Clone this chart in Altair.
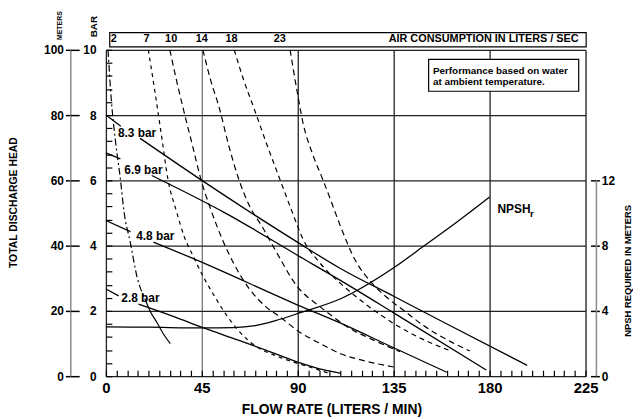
import altair as alt
import pandas as pd

FONT = "Liberation Sans"
W, HT = 485, 330

FLOW_TICKS = [0, 45, 90, 135, 180, 225]
FLOW_MINOR = list(range(0, 226, 5))
HEAD_TICKS = [0, 20, 40, 60, 80, 100]
HEAD_MINOR = list(range(0, 101, 4))
NPSH_TICKS = [0, 4, 8, 12]

# pressure curves (flow L/min, head m); split where the label sits
P83_A_F = [0, 7]
P83_A_H = [80, 76.6]
P83_B_F = [16, 45, 90, 110, 135, 160, 197.6]
P83_B_H = [72.9, 60, 41, 33, 24.5, 16, 3.3]
P69_A_F = [0, 6.8]
P69_A_H = [68.4, 66.6]
P69_B_F = [21.5, 56.3, 90, 110.4, 135, 178.4]
P69_B_H = [61.5, 49.9, 37, 29.2, 19.4, 1.9]
P48_A_F = [0, 11.5]
P48_A_H = [47.7, 44.3]
P48_B_F = [22.3, 40.8, 90, 112.7, 135, 159.9]
P48_B_H = [41.1, 36.1, 21.8, 15.5, 8.7, 1.2]
P28_A_F = [0, 6]
P28_A_H = [26.7, 24.6]
P28_B_F = [15.3, 32.2, 45, 60, 75, 90, 101.8, 110]
P28_B_H = [22.1, 18.2, 15.0, 11.5, 8.0, 4.3, 2.0, 0.9]

PRESSURE_LABELS = ["8.3 bar", "6.9 bar", "4.8 bar", "2.8 bar"]
PRESSURE_LABEL_F = [14.6, 17.6, 23.2, 16.2]
PRESSURE_LABEL_H = [74.5, 63.2, 43.0, 23.8]

# air consumption curves (flow L/min, head m)
AIR2_F = [1.0, 2.5, 4.5, 6.8, 8.4, 11.5, 14.5, 18.4]
AIR2_H = [100, 85, 72, 60.4, 50.9, 40.8, 30.7, 23.6]
AIR2_END_F = [18.4, 21.0, 23.8, 26.9, 30.2]
AIR2_END_H = [23.6, 19.6, 16.6, 13.0, 10.0]
AIR7_F = [19.9, 22.8, 25.8, 29.2, 33.1, 36.9, 40.8, 45.5, 50.5, 57, 65.4, 72, 80, 90, 98, 104]
AIR7_H = [100, 88, 75, 60, 50.5, 42.5, 37.0, 30.7, 25.0, 18.3, 11.8, 8.5, 6.2, 3.9, 2.3, 1.0]
AIR10_F = [30, 33, 36.2, 40.5, 44.7, 49.3, 54.7, 60, 67, 75, 82, 91.5, 100, 110.4, 122, 135]
AIR10_H = [100, 91, 82.2, 71, 60, 50.9, 41.8, 34.5, 27, 21.3, 18, 13.2, 10.2, 6.8, 4.6, 2.8]
AIR14_F = [45.5, 49, 53.2, 57.5, 62.5, 67.5, 73.3, 80, 89.5, 100, 107, 113.5, 125, 138]
AIR14_H = [100, 91, 82.2, 71, 60, 52, 45.8, 38, 27.7, 21.5, 18, 15.0, 11.2, 7.5]
AIR18_F = [60.2, 64.5, 69.4, 75.5, 81.8, 87, 92.6, 100, 110.4, 122, 135.1, 148, 160.7]
AIR18_H = [100, 91, 82.2, 71, 60, 51, 41.8, 35, 28.2, 22, 16.1, 11.5, 8.0]
AIR23_F = [86.4, 89.5, 92.6, 97, 101.9, 106, 110, 116.6, 125.5, 133, 141, 149, 160, 170.7]
AIR23_H = [100, 88, 77.2, 68, 60, 53, 46, 36, 28, 23.5, 19.5, 15.5, 11.2, 7.7]

AIR_LABELS = ["2", "7", "10", "14", "18", "23"]
AIR_LABEL_F = [3.7, 19.0, 30.6, 45.0, 58.9, 81.6]
AIR_TITLE = "AIR CONSUMPTION IN LITERS / SEC"

# NPSH required (flow L/min, metres)
NPSH_F = [0, 20, 45, 60, 70, 79.5, 91.9, 110.4, 135, 149, 165, 180]
NPSH_M = [3.02, 3.0, 2.96, 2.98, 3.1, 3.4, 3.92, 4.76, 6.64, 7.96, 9.48, 10.98]

NOTE_LINES = ["Performance based on water", "at ambient temperature."]


def rows(name, fs, hs):
    return [{"seg": name, "i": i, "f": f, "h": h} for i, (f, h) in enumerate(zip(fs, hs))]


p_df = pd.DataFrame(
    rows("83a", P83_A_F, P83_A_H) + rows("83b", P83_B_F, P83_B_H)
    + rows("69a", P69_A_F, P69_A_H) + rows("69b", P69_B_F, P69_B_H)
    + rows("48a", P48_A_F, P48_A_H) + rows("48b", P48_B_F, P48_B_H)
    + rows("28a", P28_A_F, P28_A_H) + rows("28b", P28_B_F, P28_B_H)
)
CURVES = ["2", "7", "10", "14", "18", "23"]
DASHES = [[7, 3, 2, 3], [4, 4], [6, 4], [6, 4], [5, 4], [6, 4]]
a_df = pd.DataFrame(
    rows("2", AIR2_F, AIR2_H) + rows("7", AIR7_F, AIR7_H) + rows("10", AIR10_F, AIR10_H)
    + rows("14", AIR14_F, AIR14_H) + rows("18", AIR18_F, AIR18_H) + rows("23", AIR23_F, AIR23_H)
)
a2_df = pd.DataFrame(rows("2e", AIR2_END_F, AIR2_END_H))
plab_df = pd.DataFrame({"t": PRESSURE_LABELS, "f": PRESSURE_LABEL_F, "h": PRESSURE_LABEL_H})
alab_df = pd.DataFrame({"t": AIR_LABELS, "f": AIR_LABEL_F, "h": [103.2] * len(AIR_LABELS)})
atitle_df = pd.DataFrame({"t": [AIR_TITLE], "f": [221.8], "h": [103.2]})
topbox_df = pd.DataFrame({"f": [1.8], "f2": [225.3], "h": [100.9], "h2": [105.3]})
notebox_df = pd.DataFrame({"f": [151.4], "f2": [221.8], "h": [87.3], "h2": [97.1]})
note_df = pd.DataFrame({"t": NOTE_LINES, "f": [153.4, 153.4], "h": [92.7, 89.2]})
n_df = pd.DataFrame({"f": NPSH_F, "m": NPSH_M, "i": list(range(len(NPSH_F)))})
nrule_df = pd.DataFrame({"lo": [0], "hi": [12]})
nlab_df = pd.DataFrame({"t": ["NPSH"], "f": [183.7], "h": [50.0]})
nsub_df = pd.DataFrame({"t": ["r"], "f": [198.9], "h": [48.8]})


def X(axis=None, field="f:Q"):
    return alt.X(field, scale=alt.Scale(domain=[0, 225], nice=False, zero=False), axis=axis)


def Y(axis=None, field="h:Q", domain=(0, 100)):
    return alt.Y(field, scale=alt.Scale(domain=list(domain), nice=False, zero=False), axis=axis)


bold = dict(labelFont=FONT, labelFontWeight="bold", labelColor="black",
            titleFont=FONT, titleFontWeight="bold", titleColor="black")

main_x = alt.Axis(values=FLOW_TICKS, orient="bottom", grid=True,
                  gridColor={"condition": {"test": "datum.value === 45", "value": "#777"}, "value": "#222"},
                  gridWidth=1.3, domain=False, ticks=False, tickSize=0,
                  labelFontSize=15, labelPadding=5, labelFlush=False,
                  title="FLOW RATE (LITERS / MIN)", titleFontSize=14, titleX=228, titleY=38,
                  titleBaseline="alphabetic", titleAlign="center", **bold)
inner_x = alt.Axis(values=FLOW_MINOR, orient="bottom", offset=-6, tickSize=6, tickColor="black",
                   tickWidth=1.2, domain=False, labels=False, grid=False, title=None)
meters_axis = alt.Axis(orient="left", offset=36, values=HEAD_TICKS, grid=True, gridColor="#222",
                       gridWidth=1.2, domain=True, domainColor="#8a8a8a", domainWidth=1.5,
                       tickSize=5, tickColor="black", tickWidth=1.5, labelFontSize=12,
                       labelPadding=2, labelFlush=False,
                       title="METERS", titleFontSize=7, titleAngle=270, titleX=-11, titleY=-25,
                       titleAlign="center", titleBaseline="middle", **bold)
bar_axis = alt.Axis(orient="left", offset=10, values=HEAD_TICKS, labelExpr="datum.value / 10",
                    grid=False, domain=False, ticks=False, tickSize=0, labelPadding=0,
                    labelFontSize=12, labelFlush=False,
                    title="BAR", titleFontSize=10, titleAngle=270, titleX=-3, titleY=-24,
                    titleAlign="center", titleBaseline="middle", **bold)
conn_axis = alt.Axis(orient="left", offset=27, values=HEAD_TICKS, grid=False, domain=False,
                     tickSize=9, tickColor="black", tickWidth=1.5, labels=False,
                     title="TOTAL DISCHARGE HEAD", titleFontSize=10.5, titleAngle=270,
                     titleX=-66, titleY=154, titleAlign="center", titleBaseline="middle", **bold)
inner_y = alt.Axis(orient="left", offset=-6, values=HEAD_MINOR, grid=False, domain=False,
                   tickSize=6, tickColor="black", tickWidth=1.2, labels=False, title=None)
npsh_axis = alt.Axis(orient="right", offset=11, values=NPSH_TICKS, grid=False, domain=False,
                     tickSize=3, tickColor="black", tickWidth=1.5, labelFontSize=12,
                     labelPadding=2, labelFlush=False,
                     title="NPSH REQUIRED IN METERS", titleFontSize=9.5, titleAngle=270,
                     titleX=31, titleY=223, titleAlign="center", titleBaseline="middle", **bold)
npsh_inner = alt.Axis(orient="right", offset=5, values=NPSH_TICKS, grid=False, domain=False,
                      tickSize=6, tickColor="black", tickWidth=1.5, labels=False, title=None)

pressure = alt.Chart(p_df).mark_line(color="black", strokeWidth=1.3, interpolate="monotone").encode(
    x=X(main_x), y=Y(meters_axis), detail="seg:N", order="i:Q")
air = alt.Chart(a_df).mark_line(color="black", strokeWidth=1.2, interpolate="monotone").encode(
    x=X(inner_x), y=Y(bar_axis), order="i:Q",
    strokeDash=alt.StrokeDash("seg:N", scale=alt.Scale(domain=CURVES, range=DASHES), legend=None))
air2 = alt.Chart(a2_df).mark_line(color="black", strokeWidth=1.2, interpolate="monotone").encode(
    x=X(), y=Y(conn_axis), order="i:Q")
plabels = alt.Chart(plab_df).mark_text(font=FONT, fontWeight="bold", fontSize=12, color="black",
                                       align="center", baseline="middle").encode(
    x=X(), y=Y(inner_y), text="t:N")
topbox = alt.Chart(topbox_df).mark_rect(fill="white", stroke="black", strokeWidth=1.2).encode(
    x=X(), x2="f2:Q", y=Y(), y2="h2:Q")
alabels = alt.Chart(alab_df).mark_text(font=FONT, fontWeight="bold", fontSize=11, color="black",
                                       align="center", baseline="middle").encode(
    x=X(), y=Y(), text="t:N")
atitle = alt.Chart(atitle_df).mark_text(font=FONT, fontWeight="bold", fontSize=11, color="black",
                                        align="right", baseline="middle").encode(
    x=X(), y=Y(), text="t:N")
notebox = alt.Chart(notebox_df).mark_rect(fill="white", stroke="black", strokeWidth=1.2).encode(
    x=X(), x2="f2:Q", y=Y(), y2="h2:Q")
note = alt.Chart(note_df).mark_text(font=FONT, fontWeight="bold", fontSize=10, color="black",
                                    align="left", baseline="alphabetic").encode(
    x=X(), y=Y(), text="t:N")
npsh = alt.Chart(n_df).mark_line(color="black", strokeWidth=1.3, interpolate="monotone").encode(
    x=X(), y=Y(npsh_axis, field="m:Q", domain=(0, 20)), order="i:Q")
nrule = alt.Chart(nrule_df).mark_rule(color="#8a8a8a", strokeWidth=1.5).encode(
    x=alt.value(W + 11), y=Y(npsh_inner, field="lo:Q", domain=(0, 20)), y2="hi:Q")
nlab = alt.Chart(nlab_df).mark_text(font=FONT, fontWeight="bold", fontSize=12, color="black",
                                    align="left", baseline="alphabetic").encode(
    x=X(), y=Y(), text="t:N")
nsub = alt.Chart(nsub_df).mark_text(font=FONT, fontWeight="bold", fontSize=10, color="black",
                                    align="left", baseline="alphabetic").encode(
    x=X(), y=Y(), text="t:N")

chart = alt.layer(
    pressure, air, air2, plabels, topbox, alabels, atitle, notebox, note, npsh, nrule, nlab, nsub
).resolve_scale(x="independent", y="independent").properties(
    width=W, height=HT,
    autosize=alt.AutoSizeParams(type="none"),
    padding={"left": 99, "top": 40, "right": 48, "bottom": 41},
).configure_view(stroke="black", strokeWidth=4).configure(background="white")

chart.save("out.html", embed_options={"renderer": "svg", "actions": False})
